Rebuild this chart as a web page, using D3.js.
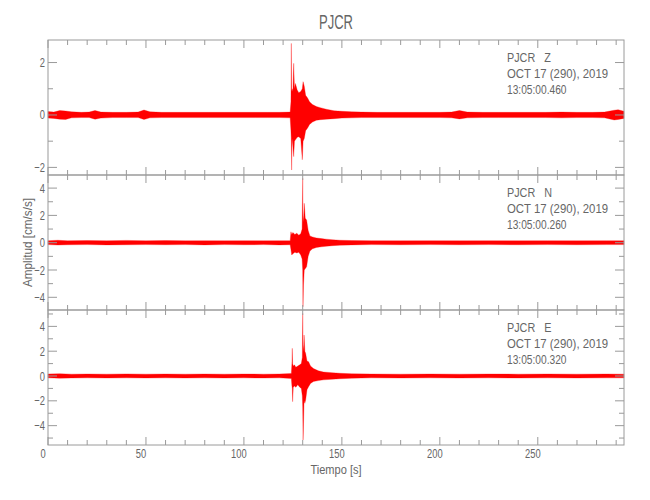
<!DOCTYPE html>
<html><head><meta charset="utf-8">
<script src="https://cdn.jsdelivr.net/npm/d3@7"></script>
<style>
body{margin:0;background:#fff}
svg{display:block}
text{font-family:"Liberation Sans",Arial,sans-serif;fill:#666;white-space:pre}
</style>
</head><body><svg id="c" width="650" height="500"></svg>
<script>
const stationName = "PJCR";
const components = ["Z", "N", "E"];
const dateLabel = "OCT 17 (290), 2019";
const startTimes = ["13:05:00.460", "13:05:00.260", "13:05:00.320"];
const xLabel = "Tiempo [s]";
const yLabel = "Amplitud [cm/s/s]";
const timeRange = [0, 294];
const xTickValues = [0, 50, 100, 150, 200, 250];
const yTickValues = [[-2, 0, 2], [-4, -2, 0, 2, 4], [-4, -2, 0, 2, 4]];
const yRanges = [[-2.29, 2.86], [-4.93, 4.96], [-5.56, 5.32]];

// envelope of each trace (time s, upper, lower)
const zTime = [0,3,6,9,12,17,21,24,27,33,40,46,49,52,58,66,74,82,90,98,106,112,118,123.6,124.0,124.2,124.35,124.6,125.0,125.4,125.8,126.3,127.2,128.0,129.0,129.8,130.2,130.8,131.5,132.5,133.5,135,137,139,142,146,150,155,160,168,176,184,192,200,206,210,214,222,230,238,246,254,262,270,278,284,289,291,294];
const zHigh = [0.13,0.11,0.17,0.15,0.12,0.1,0.11,0.17,0.11,0.1,0.1,0.11,0.19,0.12,0.1,0.1,0.1,0.1,0.1,0.1,0.1,0.1,0.1,0.11,0.5,2.73,0.9,1.0,0.9,1.97,1.0,1.2,0.95,0.85,0.9,1.0,1.27,1.1,0.75,0.65,0.5,0.4,0.32,0.28,0.22,0.16,0.14,0.12,0.11,0.1,0.1,0.1,0.1,0.1,0.11,0.17,0.11,0.1,0.1,0.1,0.1,0.1,0.11,0.1,0.1,0.11,0.18,0.2,0.14];
const zLow  = [-0.12,-0.13,-0.16,-0.17,-0.11,-0.1,-0.1,-0.16,-0.12,-0.1,-0.1,-0.1,-0.17,-0.11,-0.1,-0.1,-0.1,-0.1,-0.1,-0.1,-0.1,-0.1,-0.1,-0.11,-0.6,-1.0,-2.1,-0.9,-1.2,-1.59,-1.0,-0.95,-0.85,-0.83,-0.9,-1.71,-1.0,-0.9,-0.6,-0.5,-0.36,-0.27,-0.2,-0.18,-0.16,-0.14,-0.12,-0.11,-0.1,-0.1,-0.1,-0.1,-0.1,-0.1,-0.11,-0.15,-0.11,-0.1,-0.1,-0.1,-0.1,-0.1,-0.11,-0.1,-0.1,-0.11,-0.19,-0.17,-0.13];

const nTime = [0,5,10,20,30,40,50,60,70,80,90,100,110,118,123.6,124.0,124.4,125,126,127,128,129,129.7,130.0,130.15,130.4,130.8,131.3,132,132.8,133.7,135,137,139.5,142,145,149,155,165,180,195,210,225,240,255,270,285,294];
const nHigh = [0.15,0.18,0.14,0.16,0.14,0.17,0.14,0.16,0.14,0.15,0.14,0.15,0.14,0.15,0.15,0.8,0.6,0.75,0.6,0.7,0.55,0.65,1.0,4.72,2.0,1.5,2.89,1.8,1.66,0.9,0.5,0.42,0.35,0.3,0.26,0.22,0.18,0.16,0.15,0.14,0.15,0.14,0.15,0.14,0.15,0.14,0.15,0.14];
const nLow  = [-0.14,-0.17,-0.15,-0.14,-0.16,-0.15,-0.14,-0.15,-0.14,-0.16,-0.14,-0.15,-0.14,-0.16,-0.15,-0.5,-0.9,-0.8,-0.7,-0.75,-0.7,-0.9,-1.2,-2.0,-4.69,-3.1,-2.0,-1.9,-1.76,-1.0,-0.6,-0.45,-0.35,-0.3,-0.26,-0.22,-0.18,-0.16,-0.14,-0.15,-0.14,-0.15,-0.14,-0.15,-0.14,-0.15,-0.14,-0.14];

const eTime = [0,6,12,20,30,40,50,60,70,80,90,100,110,118,124.2,124.5,124.7,124.85,125.2,125.8,126.5,127.5,128.5,129.3,129.8,130.0,130.2,130.5,130.7,131.1,131.5,132.2,133,134,135.5,138,140.6,145,149,155,165,180,195,210,225,240,255,270,285,294];
const eHigh = [0.16,0.19,0.15,0.16,0.15,0.17,0.15,0.16,0.15,0.16,0.15,0.16,0.15,0.16,0.2,1.0,2.23,1.0,0.8,0.9,0.7,0.8,0.9,1.0,1.5,5.05,2.5,2.0,3.3,2.0,1.83,1.2,1.15,0.8,0.6,0.42,0.32,0.27,0.22,0.18,0.16,0.15,0.16,0.15,0.16,0.15,0.16,0.15,0.16,0.15];
const eLow  = [-0.15,-0.18,-0.16,-0.15,-0.16,-0.15,-0.16,-0.15,-0.16,-0.15,-0.16,-0.15,-0.16,-0.15,-0.2,-0.8,-1.0,-2.07,-0.9,-0.8,-0.9,-0.7,-0.9,-1.0,-1.6,-2.5,-5.16,-3.28,-2.0,-2.2,-1.94,-1.1,-0.86,-0.6,-0.44,-0.37,-0.31,-0.26,-0.22,-0.18,-0.15,-0.16,-0.15,-0.16,-0.15,-0.16,-0.15,-0.16,-0.15,-0.15];

const traces = [
  {time: zTime, high: zHigh, low: zLow},
  {time: nTime, high: nHigh, low: nLow},
  {time: eTime, high: eHigh, low: eLow}
];

// ---------- layout ----------
const svg = d3.select("#c");
const L = 48, R = 624, T0 = 40, PH = 135;
const axisColor = "#9a9a9a", textColor = "#666", traceColor = "#ff0000";
const x = d3.scaleLinear().domain(timeRange).range([L, R]);
const xMinor = d3.range(0, timeRange[1] + 0.001, 10);
const fmt = d => d < 0 ? "\u2212" + (-d) : String(d);

function condText(g, str, tx, ty, size, sx, anchor, color) {
  return g.append("text")
    .attr("transform", `translate(${tx},${ty}) scale(${sx},1)`)
    .attr("text-anchor", anchor || "middle")
    .attr("xml:space", "preserve")
    .style("font-size", size + "px")
    .style("fill", color || textColor)
    .text(str);
}

// title
condText(svg, stationName, (L + R) / 2, 29, 21, 0.62, "middle");

traces.forEach((tr, i) => {
  const top = T0 + i * PH, bot = top + PH;
  const y = d3.scaleLinear().domain(yRanges[i]).range([bot, top]);
  const g = svg.append("g");

  // waveform envelope
  const pts = tr.time.map((t, k) => ({t, hi: tr.high[k], lo: tr.low[k]}));
  const area = d3.area().x(d => x(d.t)).y0(d => y(d.lo)).y1(d => y(d.hi));
  g.append("path").datum(pts).attr("d", area)
    .attr("fill", traceColor).attr("stroke", traceColor).attr("stroke-width", 0.3);

  // frame
  g.append("rect").attr("x", L).attr("y", top).attr("width", R - L).attr("height", PH)
    .attr("fill", "none").attr("stroke", axisColor).attr("stroke-width", 1);

  // x ticks (inward, top and bottom)
  xMinor.forEach(v => {
    const major = xTickValues.includes(v);
    const len = major ? 8 : 5;
    g.append("line").attr("x1", x(v)).attr("x2", x(v)).attr("y1", bot).attr("y2", bot - len)
      .attr("stroke", axisColor);
    g.append("line").attr("x1", x(v)).attr("x2", x(v)).attr("y1", top).attr("y2", top + len)
      .attr("stroke", axisColor);
  });

  // y ticks (inward, left and right)
  const yMinor = d3.range(Math.ceil(yRanges[i][0]), Math.floor(yRanges[i][1]) + 1);
  yMinor.forEach(v => {
    const major = yTickValues[i].includes(v);
    const len = major ? 9 : 5;
    g.append("line").attr("x1", L).attr("x2", L + len).attr("y1", y(v)).attr("y2", y(v))
      .attr("stroke", axisColor);
    g.append("line").attr("x1", R).attr("x2", R - len).attr("y1", y(v)).attr("y2", y(v))
      .attr("stroke", axisColor);
  });
  yTickValues[i].forEach(v => {
    condText(g, fmt(v), 45, y(v) + 4.5, 13, 0.72, "end");
  });

  // annotation
  const ax = 507;
  condText(g, stationName + "   " + components[i], ax, top + 22, 12, 0.9, "start");
  condText(g, dateLabel, ax, top + 38, 12, 0.95, "start");
  condText(g, startTimes[i], ax, top + 54, 12, 0.85, "start");
});

// x tick labels
const bottom = T0 + 3 * PH;
xTickValues.forEach(v => {
  condText(svg, String(v), x(v) - 5, bottom + 13, 13, 0.72, "middle");
});
condText(svg, xLabel, (L + R) / 2, bottom + 29, 13, 0.85, "middle");

// y label
svg.append("text")
  .attr("transform", `translate(32,${T0 + 1.5 * PH}) rotate(-90) scale(0.9,1)`)
  .attr("text-anchor", "middle").style("font-size", "13px").style("fill", textColor)
  .text(yLabel);
</script>
</body></html>
